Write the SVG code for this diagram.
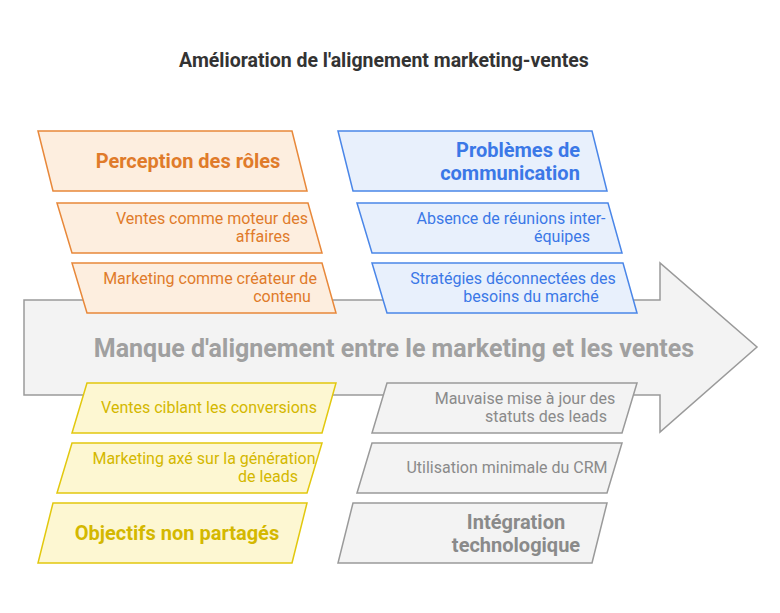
<svg xmlns="http://www.w3.org/2000/svg" width="780" height="613" viewBox="0 0 780 613">
<style>
text{font-family:Roboto,"Liberation Sans",sans-serif;text-anchor:middle}
.o{fill:#fdeedf;stroke:#e8883a;stroke-width:1.5}
.b{fill:#e8f0fc;stroke:#4a86e8;stroke-width:1.5}
.y{fill:#fdf7d2;stroke:#e2c80e;stroke-width:1.5}
.g{fill:#f3f3f3;stroke:#9a9a9a;stroke-width:1.5}
.to{fill:#e07b2a}.tb{fill:#3b78e7}.ty{fill:#d4b800}.tg{fill:#8a8a8a}
.L{font-size:20px;font-weight:bold}.S{font-size:16px}
</style>
<rect width="780" height="613" fill="#fff"/>
<text x="384" y="67" font-size="19.5" font-weight="bold" fill="#333">Amélioration de l'alignement marketing-ventes</text>
<g id="connectors">
<path d="M24,300 L660,300 L660,263 L757,347 L660,432 L660,395 L24,395 Z" fill="#f3f3f3" stroke="#9a9a9a" stroke-width="1.5"/>
<text x="394" y="357" font-size="25" font-weight="bold" fill="#a0a0a0">Manque d'alignement entre le marketing et les ventes</text>
</g>
<g id="n1"><path class="o" d="M38,131 L292,131 L307,191 L53,191 Z"/><text class="to L" x="188" y="168">Perception des rôles</text></g>
<g id="n2"><path class="o" d="M57,203 L308,203 L322,253 L72,253 Z"/><text class="to S" x="212" y="224">Ventes comme moteur des</text><text class="to S" x="263" y="242">affaires</text></g>
<g id="n3"><path class="o" d="M72,263 L322,263 L336,313 L87,313 Z"/><text class="to S" x="210" y="284">Marketing comme créateur de</text><text class="to S" x="282" y="302">contenu</text></g>
<g id="n4"><path class="b" d="M338,131 L592,131 L607,191 L353,191 Z"/><text class="tb L" x="518" y="157">Problèmes de</text><text class="tb L" x="510" y="180">communication</text></g>
<g id="n5"><path class="b" d="M357,203 L608,203 L622,253 L372,253 Z"/><text class="tb S" x="511" y="224">Absence de réunions inter-</text><text class="tb S" x="562" y="242">équipes</text></g>
<g id="n6"><path class="b" d="M372,263 L623,263 L637,313 L387,313 Z"/><text class="tb S" x="513" y="284">Stratégies déconnectées des</text><text class="tb S" x="531" y="302">besoins du marché</text></g>
<g id="n7"><path class="y" d="M87,383 L336,383 L322,433 L72,433 Z"/><text class="ty S" x="209" y="413">Ventes ciblant les conversions</text></g>
<g id="n8"><path class="y" d="M72,443 L322,443 L307,493 L57,493 Z"/><text class="ty S" x="204" y="464">Marketing axé sur la génération</text><text class="ty S" x="268" y="482">de leads</text></g>
<g id="n9"><path class="y" d="M53,503 L307,503 L292,563 L38,563 Z"/><text class="ty L" x="177" y="540">Objectifs non partagés</text></g>
<g id="n10"><path class="g" d="M387,383 L637,383 L622,433 L372,433 Z"/><text class="tg S" x="525" y="404">Mauvaise mise à jour des</text><text class="tg S" x="546" y="422">statuts des leads</text></g>
<g id="n11"><path class="g" d="M372,443 L622,443 L607,493 L357,493 Z"/><text class="tg S" x="507" y="473">Utilisation minimale du CRM</text></g>
<g id="n12"><path class="g" d="M353,503 L607,503 L592,563 L338,563 Z"/><text class="tg L" x="516" y="529">Intégration</text><text class="tg L" x="516" y="552">technologique</text></g>
</svg>
